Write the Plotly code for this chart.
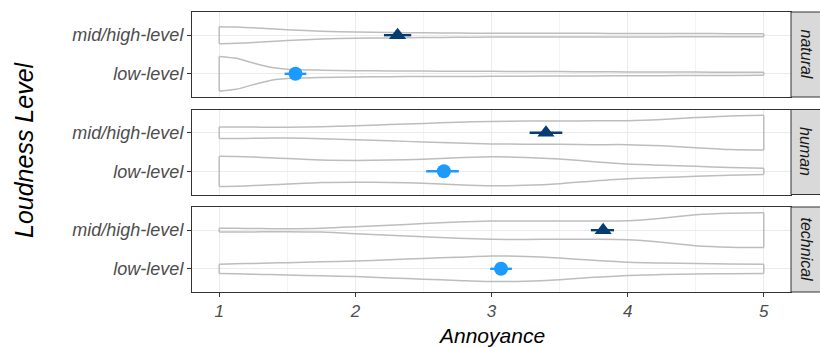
import plotly.graph_objects as go
from plotly.subplots import make_subplots

# ---------------- data ----------------
facets = ["natural", "human", "technical"]
levels = ["mid/high-level", "low-level"]
level_pos = [2, 1]

grid = [1, 1.125, 1.25, 1.375, 1.5, 1.75, 2, 2.25, 2.5, 2.75, 3, 3.25, 3.5, 3.75, 4, 4.25, 4.5, 4.75, 5]
natural_mid = [0.22, 0.21, 0.19, 0.165, 0.14, 0.10, 0.08, 0.07, 0.06, 0.055, 0.05, 0.05, 0.048, 0.047, 0.045, 0.045, 0.042, 0.04, 0.04]
natural_low = [0.45, 0.40, 0.28, 0.17, 0.12, 0.095, 0.08, 0.075, 0.07, 0.068, 0.065, 0.06, 0.058, 0.055, 0.05, 0.048, 0.045, 0.042, 0.04]
human_mid = [0.15, 0.15, 0.145, 0.14, 0.14, 0.155, 0.18, 0.21, 0.24, 0.27, 0.29, 0.30, 0.30, 0.31, 0.31, 0.34, 0.39, 0.435, 0.45]
human_low = [0.39, 0.385, 0.37, 0.35, 0.33, 0.29, 0.28, 0.29, 0.31, 0.35, 0.375, 0.36, 0.32, 0.25, 0.19, 0.16, 0.13, 0.10, 0.08]
technical_mid = [0.05, 0.048, 0.045, 0.04, 0.038, 0.05, 0.09, 0.13, 0.17, 0.21, 0.235, 0.24, 0.235, 0.235, 0.245, 0.31, 0.40, 0.44, 0.45]
technical_low = [0.12, 0.13, 0.14, 0.15, 0.16, 0.18, 0.20, 0.235, 0.27, 0.30, 0.33, 0.32, 0.28, 0.22, 0.17, 0.15, 0.135, 0.125, 0.12]

# means with interval bounds
mean_mid = [2.31, 3.40, 3.82]
lo_mid = [2.21, 3.28, 3.73]
hi_mid = [2.41, 3.52, 3.90]
mean_low = [1.56, 2.65, 3.07]
lo_low = [1.48, 2.52, 2.99]
hi_low = [1.64, 2.76, 3.15]

x_ticks = [1, 2, 3, 4, 5]

profiles = {
    "natural": (natural_mid, natural_low),
    "human": (human_mid, human_low),
    "technical": (technical_mid, technical_low),
}

# ---------------- style ----------------
FONT = "Liberation Sans, Arial, sans-serif"
DARK = "#053D72"
LIGHT = "#1C9BFF"
VIOLIN = "#BDBDBD"
BORDER = "#333333"
vline = dict(color=VIOLIN, width=1.5)

fig = make_subplots(rows=3, cols=1, shared_xaxes=True, vertical_spacing=12.5 / 280)

for i, f in enumerate(facets):
    row = i + 1
    for prof, pos in zip(profiles[f], level_pos):
        upper = [pos + w for w in prof]
        lower = [pos - w for w in prof]
        for ys in (upper, lower):
            fig.add_trace(go.Scatter(x=grid, y=ys, mode="lines",
                                     line=dict(vline, shape="spline", smoothing=0.6),
                                     hoverinfo="skip", showlegend=False), row=row, col=1)
        # flat (trimmed) ends of the violin
        fig.add_trace(go.Scatter(x=[grid[0], grid[0], None, grid[-1], grid[-1]],
                                 y=[upper[0], lower[0], None, upper[-1], lower[-1]],
                                 mode="lines", line=vline, hoverinfo="skip",
                                 showlegend=False), row=row, col=1)
    # mid/high-level: triangle
    fig.add_trace(go.Scatter(
        x=[mean_mid[i]], y=[2], mode="markers",
        marker=dict(symbol="triangle-up", size=15, color=DARK),
        error_x=dict(type="data", symmetric=False,
                     array=[hi_mid[i] - mean_mid[i]], arrayminus=[mean_mid[i] - lo_mid[i]],
                     color=DARK, thickness=2.4, width=0),
        showlegend=False), row=row, col=1)
    # low-level: circle
    fig.add_trace(go.Scatter(
        x=[mean_low[i]], y=[1], mode="markers",
        marker=dict(symbol="circle", size=14, color=LIGHT),
        error_x=dict(type="data", symmetric=False,
                     array=[hi_low[i] - mean_low[i]], arrayminus=[mean_low[i] - lo_low[i]],
                     color=LIGHT, thickness=2.4, width=0),
        showlegend=False), row=row, col=1)

    yname = "y" if row == 1 else f"y{row}"
    fig.update_yaxes(range=[0.4, 2.6], tickvals=level_pos, ticktext=levels,
                     tickfont=dict(family=FONT, size=18, color="#4D4D4D", style="italic"),
                     ticks="outside", ticklen=4, tickcolor=BORDER, tickwidth=1,
                     showgrid=True, gridcolor="#EBEBEB", gridwidth=1,
                     showline=True, linecolor=BORDER, linewidth=1, mirror=True,
                     zeroline=False, row=row, col=1)
    fig.update_xaxes(range=[0.8, 5.2], tickvals=x_ticks,
                     showgrid=True, gridcolor="#EBEBEB", gridwidth=1,
                     minor=dict(dtick=0.5, tick0=0.5, showgrid=True, gridcolor="#F3F3F3", gridwidth=1),
                     showline=True, linecolor=BORDER, linewidth=1, mirror=True,
                     zeroline=False, row=row, col=1)

    # strip
    fig.add_shape(type="rect", xref="paper", yref=f"{yname} domain",
                  x0=1.0, x1=1.07, y0=0, y1=1,
                  fillcolor="#D9D9D9", line=dict(color=BORDER, width=1), layer="above")
    fig.add_annotation(text=f, xref="paper", yref=f"{yname} domain",
                       x=(806 - 192) / 599, y=0.5, xanchor="center", yanchor="middle",
                       textangle=90, showarrow=False,
                       font=dict(family=FONT, size=16, color="#1A1A1A", style="italic"))

fig.update_xaxes(ticks="outside", ticklen=4, tickcolor=BORDER, tickwidth=1,
                 tickfont=dict(family=FONT, size=17, color="#4D4D4D", style="italic"),
                 row=3, col=1)

fig.add_annotation(text="Annoyance", xref="paper", yref="paper",
                   x=0.5, y=(292 - 335) / 280, xanchor="center", yanchor="middle", showarrow=False,
                   font=dict(family=FONT, size=21, color="#000000", style="italic"))
fig.add_annotation(text="Loudness Level", xref="paper", yref="paper",
                   x=(24 - 192) / 599, y=(292 - 150) / 280, xanchor="center", yanchor="middle",
                   textangle=-90, showarrow=False,
                   font=dict(family=FONT, size=25, color="#000000", style="italic"))

fig.update_layout(width=820, height=348,
                  margin=dict(l=192, r=29, t=12, b=56),
                  paper_bgcolor="white", plot_bgcolor="white",
                  showlegend=False)

fig.write_html("out.html", config={"displayModeBar": False},
               post_script="document.body.style.margin='0';document.body.style.overflow='hidden';")
